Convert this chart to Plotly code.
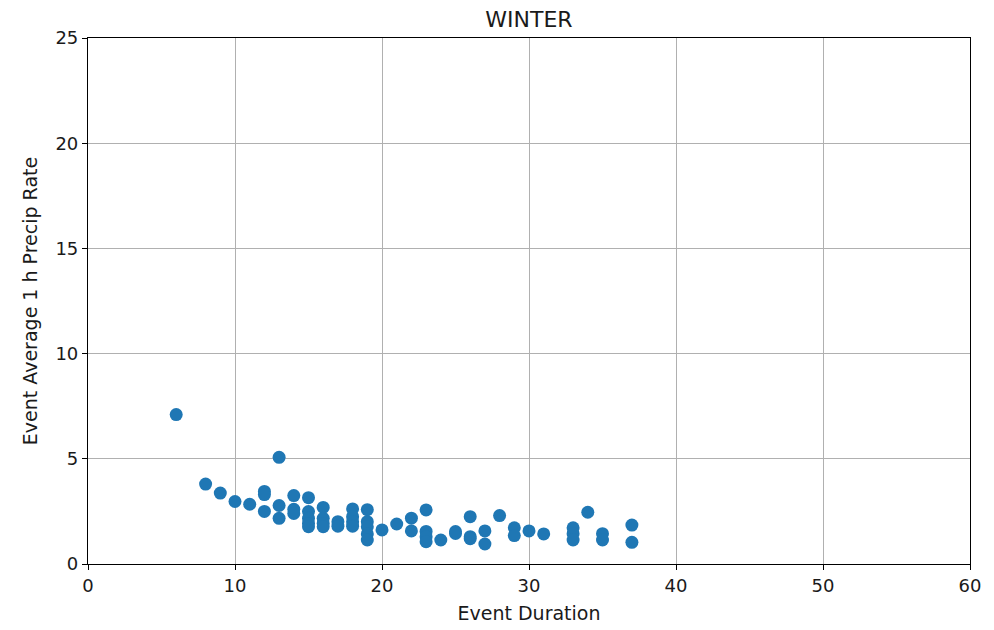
import plotly.graph_objects as go

# Winter events: duration (h) vs. average 1 h precipitation rate
duration = [6, 8, 9, 10, 11,
            12, 12, 12,
            13, 13, 13,
            14, 14, 14,
            15, 15, 15, 15, 15,
            16, 16, 16, 16,
            17, 17,
            18, 18, 18, 18,
            19, 19, 19, 19, 19,
            20, 21,
            22, 22,
            23, 23, 23, 23,
            24,
            25, 25,
            26, 26, 26,
            27, 27,
            28,
            29, 29,
            30, 31,
            33, 33, 33,
            34,
            35, 35,
            37, 37]
precip_rate = [7.1, 3.8, 3.37, 2.97, 2.84,
               3.45, 3.3, 2.5,
               5.07, 2.78, 2.17,
               3.25, 2.6, 2.4,
               3.15, 2.49, 2.17, 1.93, 1.77,
               2.69, 2.17, 1.93, 1.77,
               2.01, 1.8,
               2.62, 2.25, 2.01, 1.8,
               2.58, 2.01, 1.77, 1.43, 1.14,
               1.62, 1.9,
               2.18, 1.57,
               2.57, 1.55, 1.3, 1.06,
               1.14,
               1.54, 1.45,
               2.25, 1.3, 1.2,
               1.57, 0.95,
               2.3,
               1.72, 1.35,
               1.57, 1.43,
               1.72, 1.44, 1.14,
               2.46,
               1.44, 1.14,
               1.85, 1.03]

x_ticks = [0, 10, 20, 30, 40, 50, 60]
y_ticks = [0, 5, 10, 15, 20, 25]

font_family = "DejaVu Sans, Liberation Sans, sans-serif"

fig = go.Figure(
    go.Scatter(
        x=duration,
        y=precip_rate,
        mode="markers",
        marker=dict(color="#1f77b4", size=13, line=dict(width=0)),
        showlegend=False,
    )
)

axis_common = dict(
    showgrid=True,
    gridcolor="#b0b0b0",
    gridwidth=1,
    showline=True,
    linecolor="black",
    linewidth=1.2,
    mirror=True,
    ticks="outside",
    ticklen=5,
    tickwidth=1.2,
    tickcolor="black",
    zeroline=False,
    automargin=False,
    tickfont=dict(family=font_family, size=18, color="#1a1a1a"),
)

label_font = dict(family=font_family, size=19, color="#1a1a1a")

fig.update_xaxes(
    range=[0, 60],
    tickvals=x_ticks,
    title=dict(text="Event Duration", font=label_font, standoff=11),
    **axis_common,
)
fig.update_yaxes(
    range=[0, 25],
    tickvals=y_ticks,
    title=dict(text="Event Average 1 h Precip Rate", font=label_font, standoff=12),
    **axis_common,
)

fig.update_layout(
    width=994,
    height=630,
    margin=dict(l=88, r=24, t=38, b=66),
    plot_bgcolor="white",
    paper_bgcolor="white",
    title=dict(
        text="WINTER",
        x=(88 + 970) / 2 / 994,
        xanchor="center",
        y=1 - 19 / 630,
        yanchor="middle",
        font=dict(family=font_family, size=22, color="#1a1a1a"),
    ),
)

fig.write_html("out.html")
